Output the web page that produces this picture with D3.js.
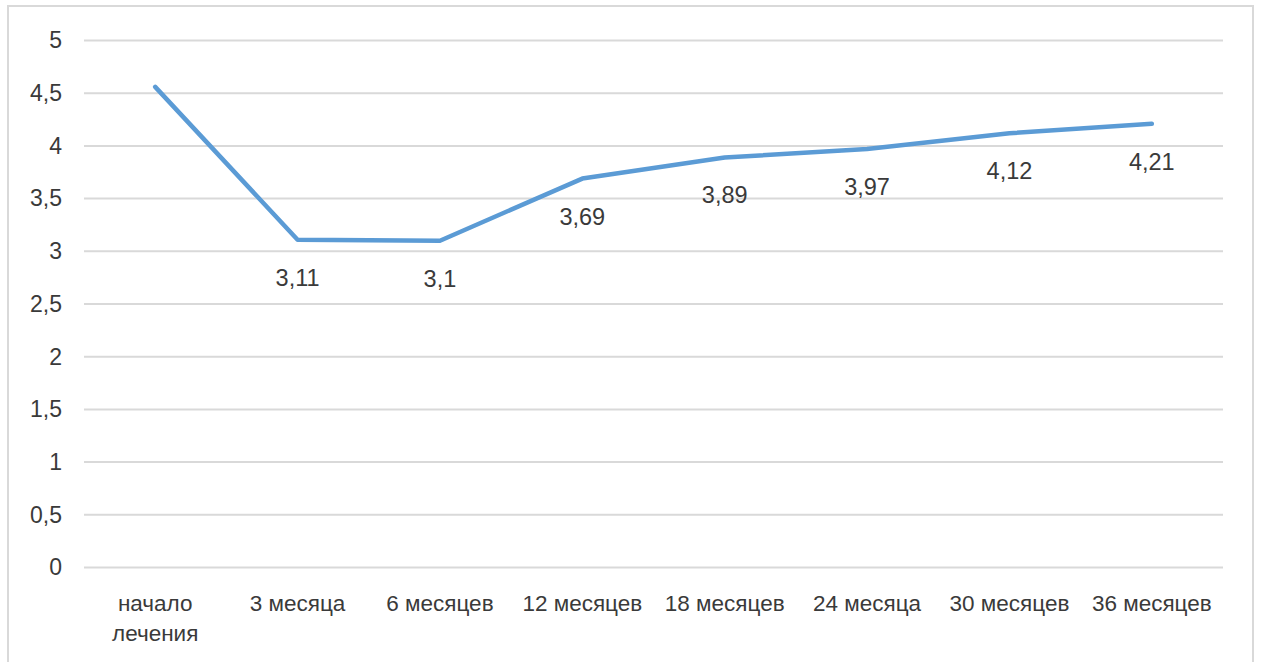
<!DOCTYPE html>
<html>
<head>
<meta charset="utf-8">
<script src="https://cdn.jsdelivr.net/npm/d3@7"></script>
<style>
  html, body { margin: 0; padding: 0; background: #fff; }
  svg { display: block; }
  text { font-family: "Liberation Sans", Arial, sans-serif; fill: #3a3a3a; }
</style>
</head>
<body>
<svg id="chart" width="1261" height="662"></svg>
<script>
// Chart data
const categories = ["начало лечения", "3 месяца", "6 месяцев", "12 месяцев", "18 месяцев", "24 месяца", "30 месяцев", "36 месяцев"];
const values = [4.56, 3.11, 3.1, 3.69, 3.89, 3.97, 4.12, 4.21];
const showLabel = [false, true, true, true, true, true, true, true];
const yTicks = [0, 0.5, 1, 1.5, 2, 2.5, 3, 3.5, 4, 4.5, 5];

const svg = d3.select("#chart");
const plot = { left: 84, right: 1223, top: 40.5, bottom: 567.5 };

// outer frame (bottom edge falls outside the canvas)
svg.append("rect")
  .attr("x", 8).attr("y", 6)
  .attr("width", 1245).attr("height", 700)
  .attr("fill", "none")
  .attr("stroke", "#d9d9d9")
  .attr("stroke-width", 2);

const x = d3.scaleBand()
  .domain(categories)
  .range([plot.left, plot.right])
  .padding(0);

const y = d3.scaleLinear()
  .domain([0, 5])
  .range([plot.bottom, plot.top]);

// horizontal gridlines
svg.append("g")
  .selectAll("line")
  .data(yTicks)
  .join("line")
  .attr("x1", plot.left).attr("x2", plot.right)
  .attr("y1", d => y(d)).attr("y2", d => y(d))
  .attr("stroke", "#d9d9d9")
  .attr("stroke-width", 2);

// y axis labels
const fmt = d => String(d).replace(".", ",");
const yAxis = d3.axisLeft(y).tickValues(yTicks).tickFormat(fmt).tickSize(0).tickPadding(22);
const gy = svg.append("g").attr("transform", `translate(${plot.left},0)`).call(yAxis);
gy.select(".domain").remove();
gy.selectAll("text")
  .style("font-size", "23px")
  .style("fill", "#3a3a3a")
  .style("font-family", "'Liberation Sans', Arial, sans-serif");

// x axis labels (wrapped)
const xAxis = d3.axisBottom(x).tickSize(0).tickPadding(0).tickFormat("");
const gx = svg.append("g").attr("transform", `translate(0,${plot.bottom})`).call(xAxis);
gx.select(".domain").remove();
gx.selectAll(".tick").each(function(d) {
  const words = d === "начало лечения" ? ["начало", "лечения"] : [d];
  const t = d3.select(this).append("text")
    .attr("text-anchor", "middle")
    .style("font-size", "22.5px");
  words.forEach((w, i) => {
    t.append("tspan").attr("x", 0).attr("y", 43 + i * 30).text(w);
  });
});

// series line
const line = d3.line()
  .x((d, i) => x(categories[i]) + x.bandwidth() / 2)
  .y(d => y(d));

svg.append("path")
  .datum(values)
  .attr("d", line)
  .attr("fill", "none")
  .attr("stroke", "#5b9bd5")
  .attr("stroke-width", 4.5)
  .attr("stroke-linejoin", "round")
  .attr("stroke-linecap", "round");

// data labels below points
svg.append("g")
  .selectAll("text")
  .data(values.map((v, i) => ({ v, i })).filter(d => showLabel[d.i]))
  .join("text")
  .attr("x", d => x(categories[d.i]) + x.bandwidth() / 2)
  .attr("y", d => y(d.v) + 46)
  .attr("text-anchor", "middle")
  .style("font-size", "23.5px")
  .text(d => fmt(d.v));
</script>
</body>
</html>
